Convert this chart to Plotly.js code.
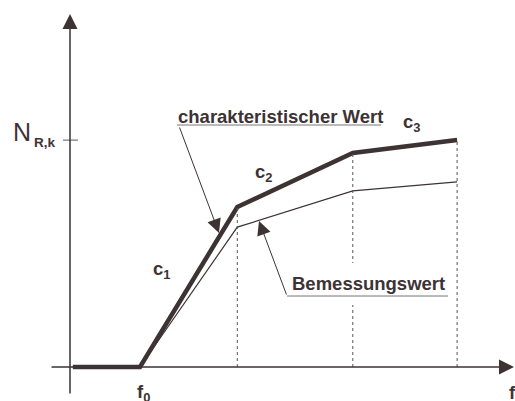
<!DOCTYPE html>
<html>
<head>
<meta charset="utf-8">
<script src="https://cdn.plot.ly/plotly-3.0.1.min.js"></script>
<style>
  html, body { margin: 0; padding: 0; background: #fff; }
  #chart { width: 515px; height: 401px; }
</style>
</head>
<body>
<div id="chart"></div>
<script>
// Points of the two resistance curves (f along the x axis, N along the y axis)
var fValues = [0.04, 1.0, 2.39, 4.04, 5.53]
var charValues = [0, 0, 0.708, 0.947, 1.004]
var designValues = [0, 0, 0.619, 0.779, 0.819]

// Kinks that get a dotted drop line
var kinkIndex = [2, 3, 4]

var darkColor = "#3d3234"
var fontFamily = "Liberation Sans, Arial, sans-serif"
var textFont = { family: fontFamily, size: 18.5, color: darkColor }

// helpers to place decorations from picture positions (plot area = whole page)
function X(px) { return px / 70 - 1 }
function Y(py) { return (367 - py) / 226 }

var charTrace = {
  x: fValues,
  y: charValues,
  type: "scatter",
  mode: "lines",
  line: { color: darkColor, width: 4.5 },
  hoverinfo: "skip",
}

var designTrace = {
  x: fValues,
  y: designValues,
  type: "scatter",
  mode: "lines",
  line: { color: darkColor, width: 1.2 },
  hoverinfo: "skip",
}

var shapes = []
kinkIndex.forEach(function (i) {
  shapes.push({
    type: "line", xref: "x", yref: "y",
    x0: fValues[i], x1: fValues[i], y0: 0, y1: charValues[i],
    line: { color: "#555", width: 1, dash: "dot" },
  })
})
// white mask where the label crosses the middle drop line
shapes.push({
  type: "rect", xref: "x", yref: "y",
  x0: X(345), x1: X(361), y0: Y(305), y1: Y(263),
  fillcolor: "#fff", line: { width: 0 },
})
// underlines of the two labels
shapes.push({
  type: "line", xref: "x", yref: "y",
  x0: X(177), x1: X(381), y0: Y(125), y1: Y(125),
  line: { color: "#777", width: 1 },
})
shapes.push({
  type: "line", xref: "x", yref: "y",
  x0: X(287), x1: X(448), y0: Y(296), y1: Y(296),
  line: { color: "#777", width: 1 },
})
// tick for N_R,k
shapes.push({
  type: "line", xref: "x", yref: "y",
  x0: X(63), x1: X(78), y0: charValues[4], y1: charValues[4],
  line: { color: "#555", width: 1 },
})

function arrow(x, y, ax, ay, size, width) {
  return {
    x: x, y: y, ax: ax, ay: ay,
    xref: "x", yref: "y", axref: "x", ayref: "y",
    text: "", showarrow: true,
    arrowhead: 2, arrowsize: size, arrowwidth: width,
    arrowcolor: darkColor,
  }
}

function label(text, x, y, anchor, font) {
  return {
    x: x, y: y, xref: "x", yref: "y",
    text: text, showarrow: false,
    xanchor: anchor || "left", yanchor: "middle",
    font: font || textFont,
  }
}

var annotations = [
  // axes with arrow heads
  arrow(X(514), 0, X(50), 0, 2, 1.5),
  arrow(0, Y(14), 0, Y(395), 2, 1.5),
  // leader arrows
  arrow(X(219), Y(233), X(179), Y(126), 2.8, 1),
  arrow(X(259), Y(221), X(287), Y(296), 2.8, 1),
  // texts
  label("<b>charakteristischer Wert</b>", X(176), Y(116)),
  label("<b>Bemessungswert</b>", X(290), Y(283)),
  label("<b>c<sub>1</sub></b>", X(151), Y(270)),
  label("<b>c<sub>2</sub></b>", X(253), Y(173)),
  label("<b>c<sub>3</sub></b>", X(401), Y(123)),
  label("<b>f<sub>0</sub></b>", X(135), Y(393)),
  label("<b>f</b>", X(507), Y(392)),
  label("N", X(11), Y(132), "left", { family: fontFamily, size: 25, color: darkColor }),
  label("<b>R,k</b>", X(32), Y(142), "left", { family: fontFamily, size: 13.5, color: darkColor }),
]

var layout = {
  width: 515,
  height: 401,
  margin: { l: 0, r: 0, t: 0, b: 0 },
  paper_bgcolor: "#fff",
  plot_bgcolor: "#fff",
  showlegend: false,
  xaxis: { range: [X(0), X(515)], visible: false, fixedrange: true },
  yaxis: { range: [Y(401), Y(0)], visible: false, fixedrange: true },
  shapes: shapes,
  annotations: annotations,
}

Plotly.newPlot("chart", [designTrace, charTrace], layout, { staticPlot: true })
</script>
</body>
</html>
